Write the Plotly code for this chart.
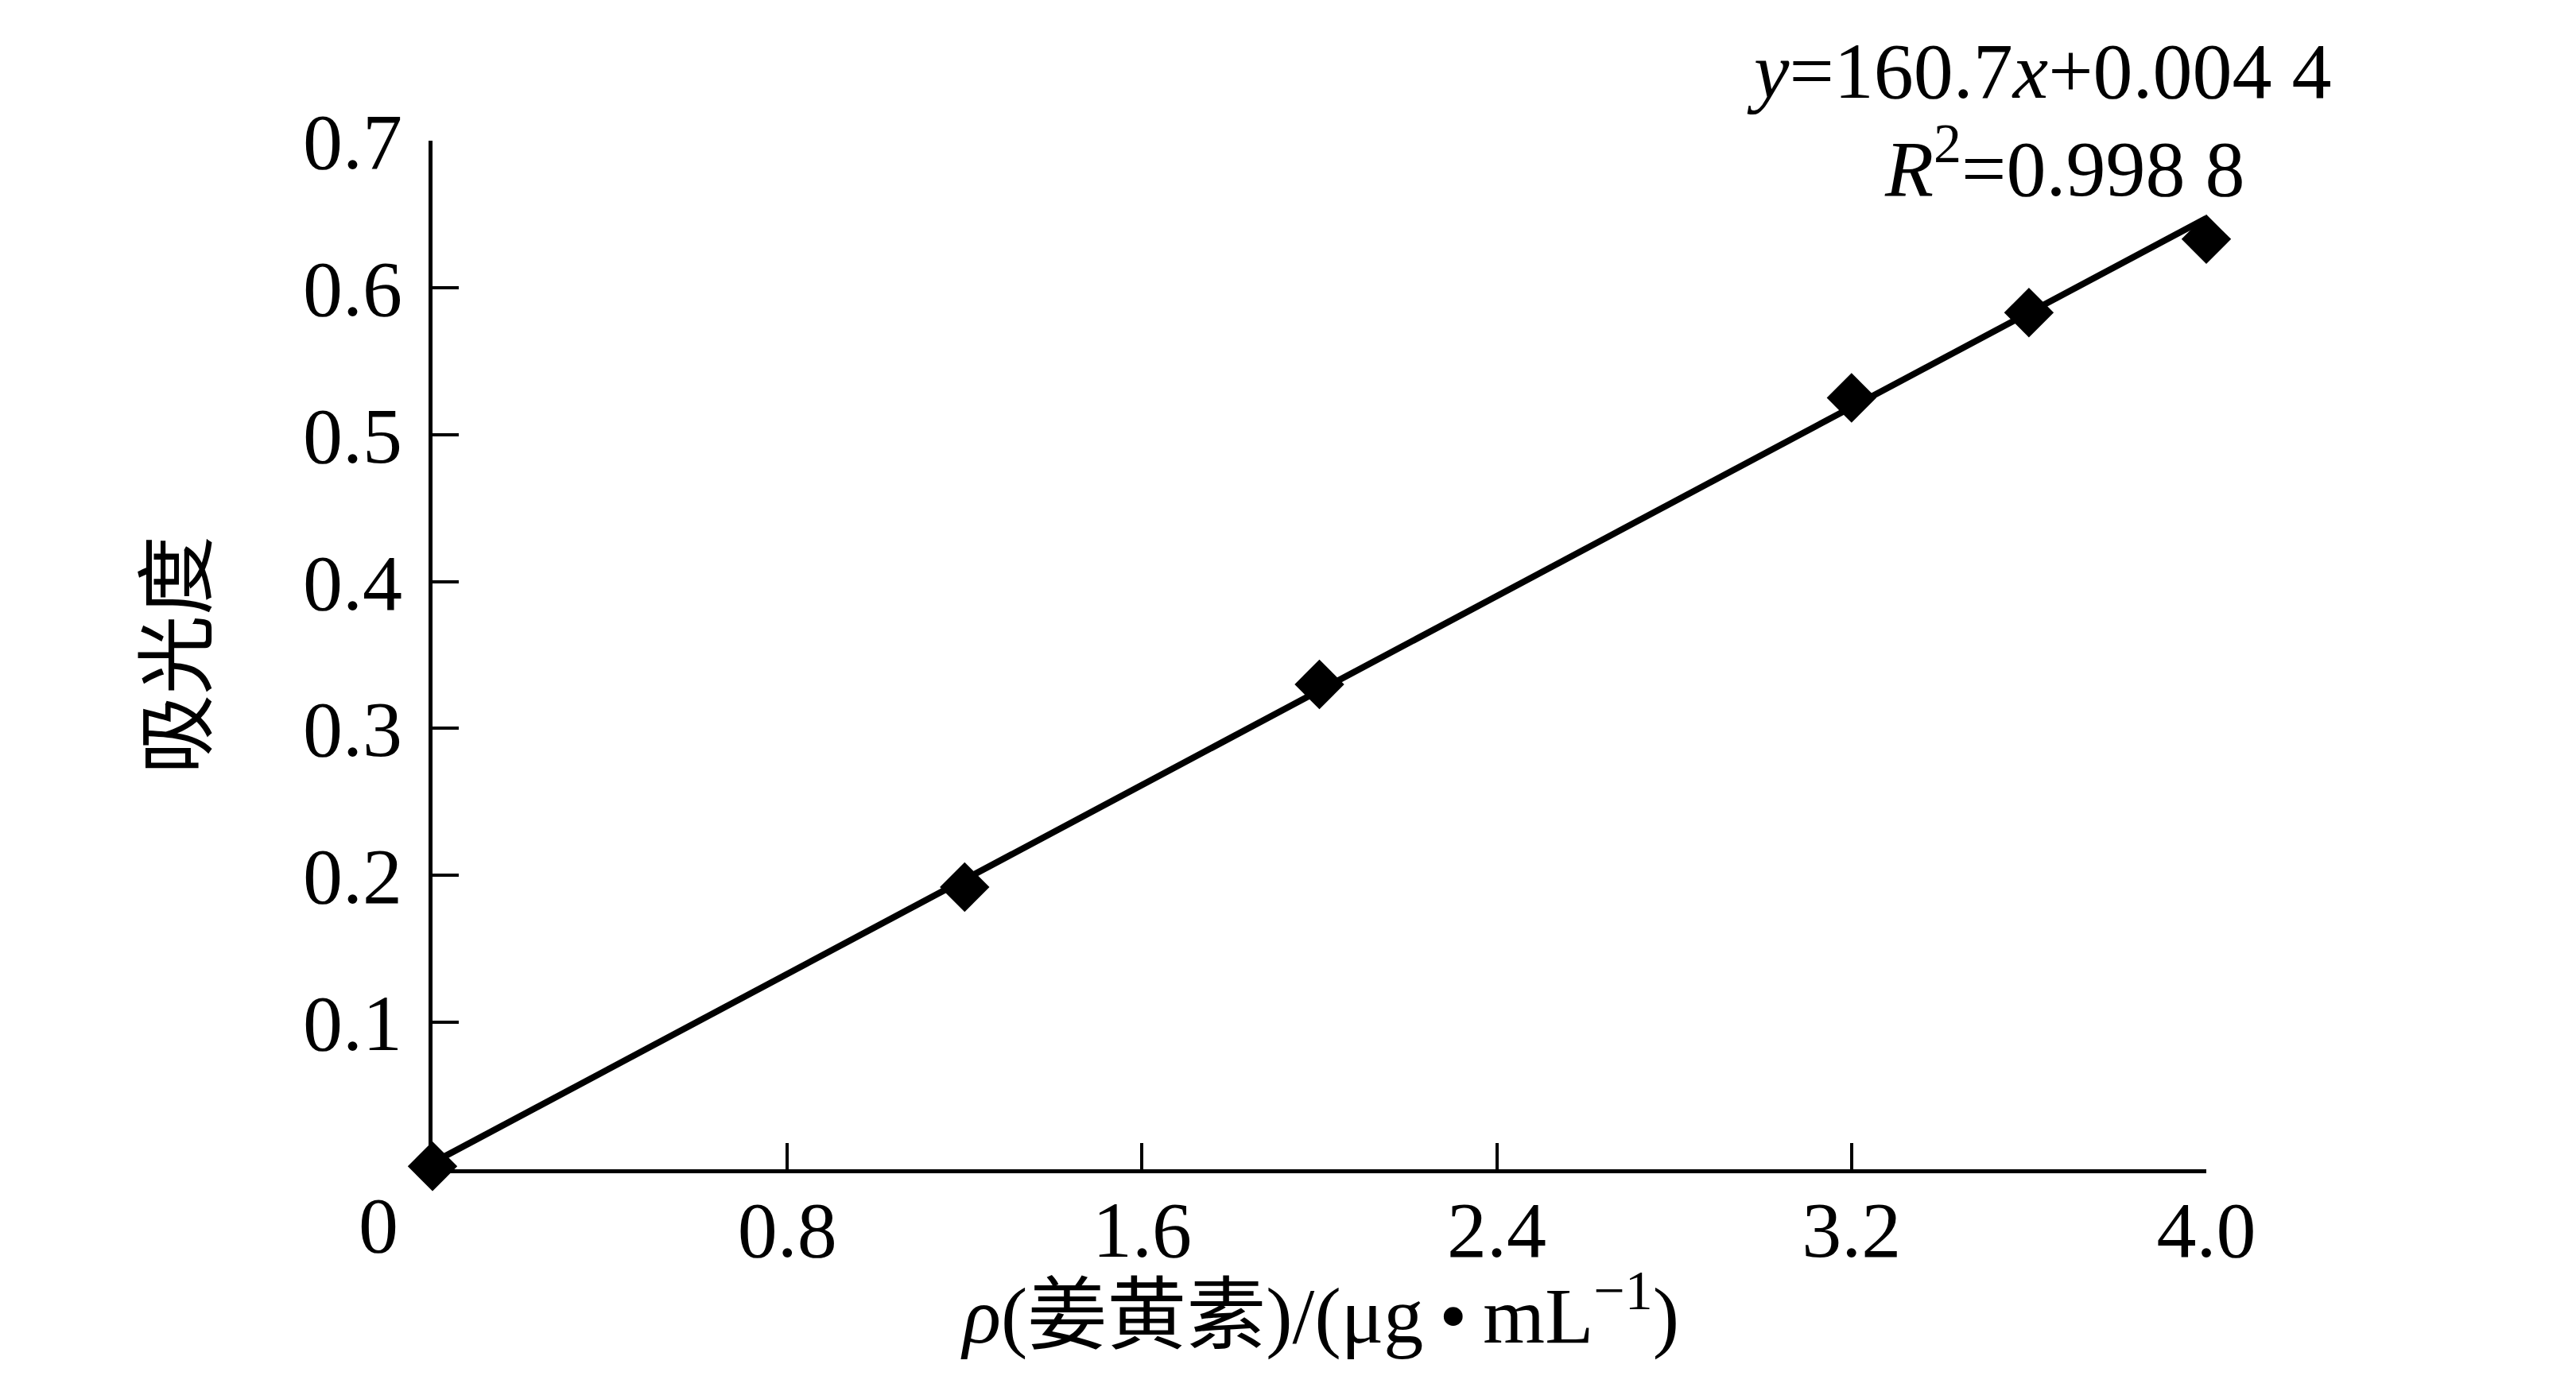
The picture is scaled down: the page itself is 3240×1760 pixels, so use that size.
import numpy as np
import plotly.graph_objects as go

# Curcumin standard curve
conc = [0.0, 1.2, 2.0, 3.2, 3.6, 4.0]          # ρ(姜黄素) / (µg·mL-1)
absorb = [0.002, 0.192, 0.330, 0.525, 0.583, 0.633]

# trendline from the printed equation (slope is per mg/mL)
fit_slope = 160.7 / 1000
fit_intercept = 0.0044
fit_x = np.array([0.0, 4.0])
fit_y = fit_slope * fit_x + fit_intercept

x_ticks = [0.8, 1.6, 2.4, 3.2, 4.0]
x_labels = ["0.8", "1.6", "2.4", "3.2", "4.0"]
y_ticks = [0.1, 0.2, 0.3, 0.4, 0.5, 0.6, 0.7]
y_labels = ["0.1", "0.2", "0.3", "0.4", "0.5", "0.6", "0.7"]

FONT = "Liberation Serif, Times New Roman, Noto Sans CJK SC, serif"

fig = go.Figure()
fig.add_trace(go.Scatter(x=fit_x, y=fit_y, mode="lines",
                         line=dict(color="black", width=8),
                         cliponaxis=False, showlegend=False))
fig.add_trace(go.Scatter(x=conc, y=absorb, mode="markers",
                         marker=dict(symbol="diamond", size=48, color="black"),
                         cliponaxis=False, showlegend=False))

fig.update_layout(
    width=3240, height=1760,
    margin=dict(l=536, r=473, t=169, b=297, pad=0, autoexpand=False),
    paper_bgcolor="white", plot_bgcolor="white",
    font=dict(family=FONT, size=100, color="black"),
    showlegend=False,
)
fig.update_xaxes(
    range=[0, 4.0], tickvals=x_ticks, ticktext=x_labels,
    showline=True, linecolor="black", linewidth=5,
    ticks="inside", ticklen=33, tickwidth=4, tickcolor="black",
    showgrid=False, zeroline=False, ticklabelstandoff=-15,
    tickfont=dict(family=FONT, size=100),
)
fig.update_yaxes(
    range=[0, 0.7], tickvals=y_ticks, ticktext=y_labels,
    showline=True, linecolor="black", linewidth=5,
    ticks="inside", ticklen=33, tickwidth=4, tickcolor="black",
    showgrid=False, zeroline=False, ticklabelstandoff=13,
    tickfont=dict(family=FONT, size=100),
    title=dict(text="吸光度", font=dict(family=FONT, size=100), standoff=91),
)

# x title placed as annotation so it can sit close under the tick labels
fig.add_annotation(text="<i>ρ</i>(姜黄素)/(μg\u2009•\u2009mL<sup>−1</sup>)",
                   xref="paper", yref="paper", x=0.5, y=-0.137,
                   xanchor="center", yanchor="middle", showarrow=False,
                   font=dict(family=FONT, size=100))

# origin label sits left of the axis corner
fig.add_annotation(text="0", xref="x", x=0, yref="paper", y=0,
                   xanchor="center", yanchor="top", xshift=-68, yshift=-13,
                   showarrow=False, font=dict(family=FONT, size=100))

# regression equation
fig.add_annotation(text="<i>y</i>=160.7<i>x</i>+0.004 4", xref="paper", yref="paper",
                   x=0.906, y=1.068, xanchor="center", yanchor="middle",
                   showarrow=False, font=dict(family=FONT, size=100))
fig.add_annotation(text="<i>R</i><sup>2</sup>=0.998 8", xref="paper", yref="paper",
                   x=0.920, y=0.978, xanchor="center", yanchor="middle",
                   showarrow=False, font=dict(family=FONT, size=100))

fig.write_html("out.html")
